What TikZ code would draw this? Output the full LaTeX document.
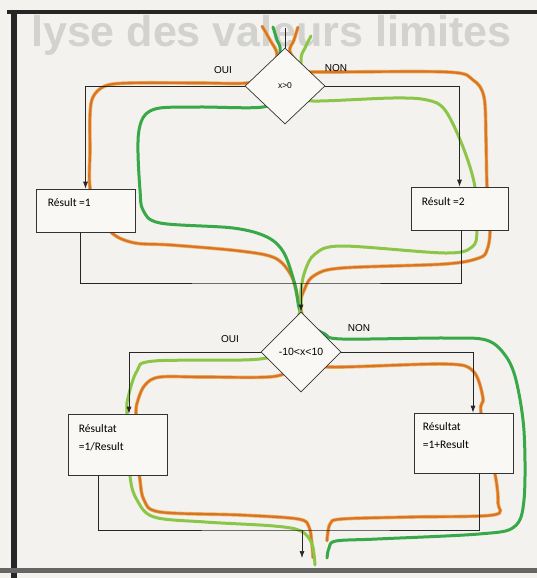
\documentclass[tikz,border=0pt]{standalone}
\usepackage{fontspec}
\setmainfont{Carlito}
\newfontfamily\lblfont{Liberation Sans}
\usetikzlibrary{arrows.meta,shapes.geometric}

\definecolor{paper}{RGB}{243,242,238}
\definecolor{boxfill}{RGB}{249,248,245}
\definecolor{titlegrey}{RGB}{210,210,207}
\definecolor{wireorange}{RGB}{220,114,38}
\definecolor{wireedge}{RGB}{232,182,96}
\definecolor{wiregreen}{RGB}{56,168,72}
\definecolor{wirelight}{RGB}{140,198,72}

\tikzset{
  resbox/.style={draw=black!80, fill=boxfill, line width=0.7pt, inner sep=0pt},
  decision/.style={diamond, draw=black!80, fill=boxfill, line width=0.7pt, inner sep=0pt,
    minimum width=80pt, minimum height=76pt, font=\lblfont\fontsize{8.5}{10}\selectfont},
  boxtext/.style={anchor=west, align=left, inner sep=0pt, font=\fontsize{11.5}{18}\selectfont},
  branch/.style={font=\lblfont\fontsize{10}{12}\selectfont, inner sep=0pt},
  flow/.style={line width=0.7pt, black!85},
  orangewire/.style={line width=2.2pt, wireorange, line cap=round,
    preaction={draw=wireedge, line width=3.6pt}},
  greenwire/.style={line width=3pt, wiregreen, line cap=round},
  lightwire/.style={line width=3pt, wirelight, line cap=round},
}

\begin{document}
\begin{tikzpicture}[x=1pt, y=-1pt, >={Latex[length=7pt,width=5pt]}]
  % paper and frame
  \fill[paper] (0,0) rectangle (537,578);
  \useasboundingbox (0,0) rectangle (537,578);
  \node[anchor=base west, inner sep=0pt, text=titlegrey,
    font=\lblfont\bfseries\fontsize{43}{48}\selectfont] (title) at (31,47) {lyse des valeurs limites};
  \fill[black!85] (11,10) rectangle (17,578);
  \fill[black!85] (7,10) rectangle (537,14);
  \fill[black!60] (0,568) rectangle (537,573);

  % coloured test paths
  \draw[orangewire] plot[smooth, tension=0.55] coordinates {(262,26) (270,40) (277,55) (268,75) (247,83)
    (200,83) (130,83) (105,86) (93,97) (90,115) (90,150) (90,188) (100,215) (113,234) (135,243)
    (171,245) (240,251) (275,258) (291,275) (297,295) (300,312) (290,360) (277,376) (205,377)
    (160,377) (145,385) (138,400) (136,414) (138,460) (140,480) (144,500) (160,512) (240,515)
    (298,519) (309,527) (312,545) (313,558)};
  \draw[orangewire] plot[smooth, tension=0.55] coordinates {(298,27) (294,40) (290,52) (305,70) (316,72)
    (447,72) (473,80) (484,97) (486,140) (487,187) (490,230) (487,250) (479,258) (445,264)
    (342,268) (315,275) (305,288) (301,310) (318,360) (330,367) (445,364) (473,371) (483,398)
    (481,413) (495,474) (498,503) (493,515) (411,517) (342,519) (330,524) (327,541)};
  \draw[greenwire] plot[smooth, tension=0.55] coordinates {(273,27) (277,40) (280,52) (272,95) (263,107)
    (200,107) (160,108) (145,115) (139,130) (138,153) (140,190) (143,210) (160,223) (233,228)
    (267,237) (284,253) (295,285) (300,311) (312,326) (325,334) (342,339) (445,338) (486,340)
    (505,355) (516,380) (524,431) (524,500) (514,527) (479,534) (377,539) (336,541) (329,548)
    (327,558)};
  \draw[lightwire] plot[smooth, tension=0.55] coordinates {(311,36) (305,48) (301,60) (305,95) (313,101)
    (393,98) (427,100) (445,110) (463,147) (475,187) (477,230) (472,247) (445,253) (342,246)
    (315,254) (305,271) (301,290) (300,311) (285,345) (260,359) (154,361) (137,371) (128,398)
    (127,414) (130,476) (137,500) (154,517) (205,522) (274,526) (301,531) (312,544) (315,565)};

  % flowchart
  \coordinate (in) at (285,28);
  \node[decision] (d1) at (285,86) {x>0};
  \node[resbox, minimum width=99pt, minimum height=43pt] (r1) at (85.5,210.5) {};
  \node[resbox, minimum width=97pt, minimum height=43pt] (r2) at (459.5,208.5) {};
  \coordinate (m1) at (301,283);
  \node[decision, minimum height=80pt, font=\lblfont\fontsize{10.5}{12}\selectfont] (d2) at (301,352) {-10<x<10};
  \node[resbox, minimum width=99pt, minimum height=61pt] (r3) at (117.5,444.5) {};
  \node[resbox, minimum width=99pt, minimum height=60pt] (r4) at (463.5,443) {};
  \coordinate (m2) at (302,530);
  \coordinate (out) at (302,558);

  % box texts
  \node[boxtext] (t1) at ([shift={(12,-7.5)}]r1.west) {Résult =1};
  \node[boxtext] (t2) at ([shift={(11,-6.5)}]r2.west) {Résult =2};
  \node[boxtext] (t3) at ([shift={(11,-6.5)}]r3.west) {Résultat\\=1/Result};
  \node[boxtext] (t4) at ([shift={(9,-7.5)}]r4.west) {Résultat\\=1+Result};

  % branch labels
  \node[branch] (oui1) at (223,70) {OUI};
  \node[branch] (non1) at (336,68) {NON};
  \node[branch] (oui2) at (230,339) {OUI};
  \node[branch] (non2) at (359,328) {NON};

  % connectors
  \draw[flow] (in) -- (d1.north);
  \draw[flow, ->] (d1.west) -| (r1.north);
  \draw[flow, ->] (d1.east) -| (r2.north);
  \draw[flow] ([xshift=-5pt]r1.south) |- (m1) -| ([xshift=2pt]r2.south);
  \draw[flow, ->] (m1) -- (d2.north);
  \draw[flow, ->] (d2.west) -| ([xshift=11.5pt]r3.north);
  \draw[flow, ->] (d2.east) -| ([xshift=9.5pt]r4.north);
  \draw[flow] ([xshift=-19.5pt]r3.south) |- (m2) -| ([xshift=15.5pt]r4.south);
  \draw[flow, ->] (m2) -- (out);
\end{tikzpicture}
\end{document}
